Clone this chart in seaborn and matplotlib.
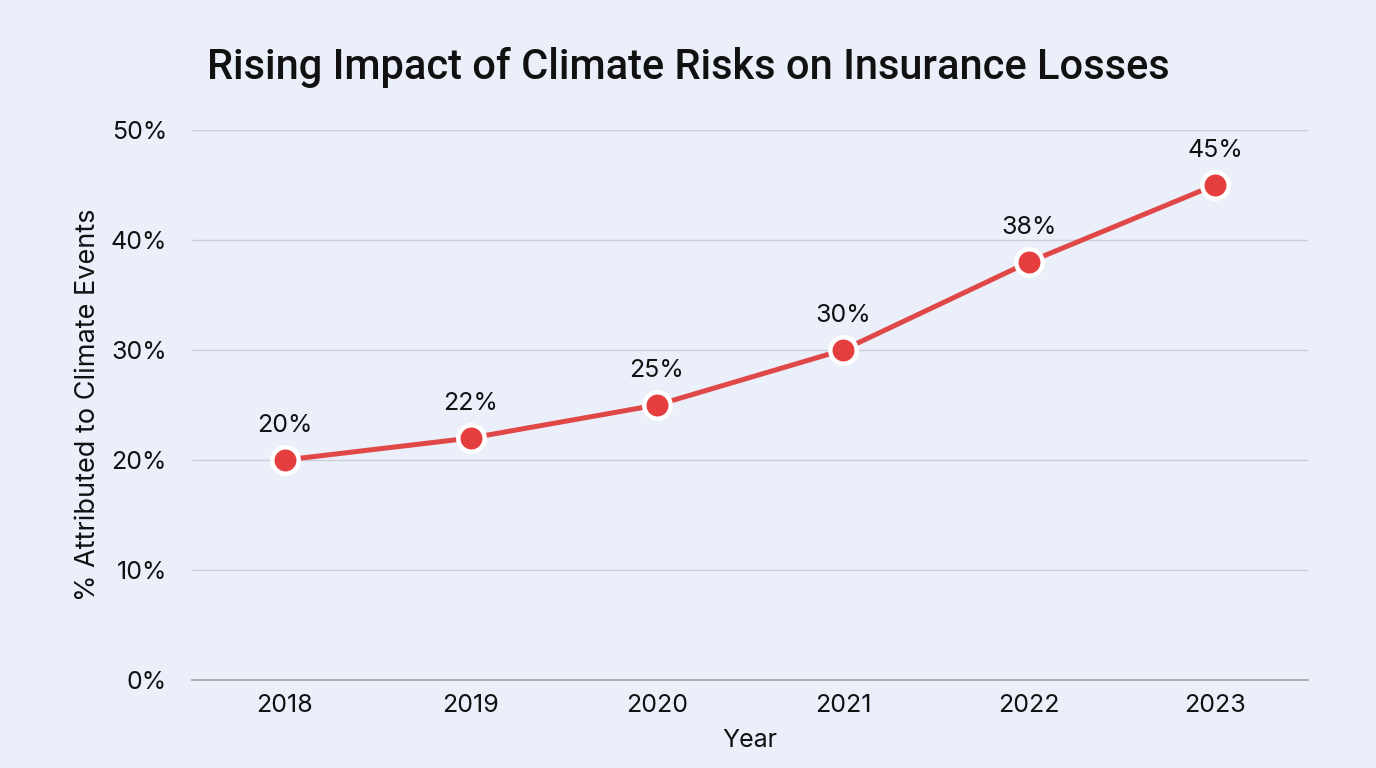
import matplotlib
matplotlib.use("Agg")
import matplotlib.pyplot as plt
import seaborn as sns
import pandas as pd

years = ["2018", "2019", "2020", "2021", "2022", "2023"]
share = [20, 22, 25, 30, 38, 45]
yticks = [0, 10, 20, 30, 40, 50]

df = pd.DataFrame({"Year": years, "Share": share})

sns.set_theme(style="white")
plt.rcParams["font.family"] = ["Inter", "DejaVu Sans"]

bg = "#EBEFFA"
fig = plt.figure(figsize=(13.76, 7.68), dpi=100, facecolor=bg)
ax = fig.add_axes([0.1395, 0.1146, 0.8111, 0.7161])
ax.set_facecolor(bg)

sns.lineplot(data=df, x="Year", y="Share", ax=ax, color="#E04848", linewidth=3.6,
             marker="o", markersize=19, markerfacecolor="#E53E3E",
             markeredgecolor="white", markeredgewidth=3.2, sort=False, zorder=3)

for i, v in enumerate(share):
    ax.annotate(f"{v}%", (i, v), xytext=(0, 25), textcoords="offset points",
                ha="center", va="center", fontsize=18, color="#111111")

ax.set_xlim(-0.5, len(years) - 0.5)
ax.set_ylim(0, 50)
ax.set_yticks(yticks)
ax.set_yticklabels([f"{t}%" for t in yticks])
ax.yaxis.grid(True, color="#C9CEDA", linewidth=1.0)
ax.set_axisbelow(True)
for s in ["top", "right", "left"]:
    ax.spines[s].set_visible(False)
ax.spines["bottom"].set_color("#A3A7B0")
ax.spines["bottom"].set_linewidth(1.3)
ax.tick_params(axis="both", length=0, labelsize=18, colors="#111111")
ax.tick_params(axis="x", pad=10)
ax.tick_params(axis="y", pad=18)
ax.set_xlabel("Year", fontsize=18, color="#111111", labelpad=9)
ax.set_ylabel("% Attributed to Climate Events", fontsize=19.5, color="#111111", labelpad=7)

fig.text(0.5, 0.912, "Rising Impact of Climate Risks on Insurance Losses",
         ha="center", va="center", fontsize=30, fontweight="medium", color="#111111",
         family=["Roboto", "DejaVu Sans"])

fig.savefig("out.png", dpi=100, facecolor=bg)
